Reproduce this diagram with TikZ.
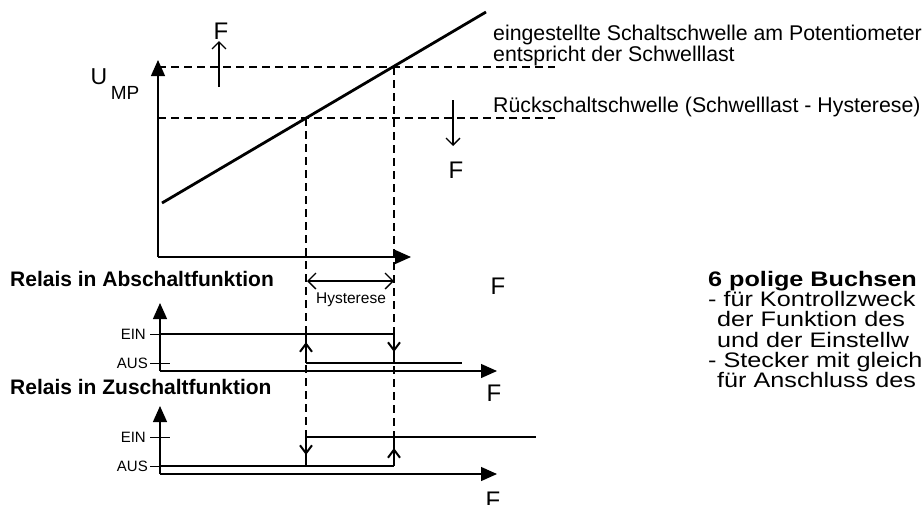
\documentclass[tikz,border=0pt]{standalone}
\usepackage{fontspec}
\setmainfont{Liberation Sans}
\newfontfamily\widefont[FakeStretch=1.2]{Liberation Sans}
\usetikzlibrary{arrows.meta, decorations.markings}

\begin{document}
\begin{tikzpicture}[
    x=1pt, y=-1pt,
    axis/.style={line width=1.3pt, -{Triangle[length=16pt,width=14pt]}},
    sig/.style={line width=2.8pt},
    thr/.style={line width=1.1pt, dash pattern=on 8pt off 5pt},
    tick/.style={line width=1pt},
    force/.style={line width=1.2pt, -{Straight Barb[length=7pt,width=14pt,line width=1.3pt]}},
    hyst/.style={line width=1.2pt, {Straight Barb[length=8pt,width=16pt,line width=1.3pt]}-{Straight Barb[length=8pt,width=16pt,line width=1.3pt]}},
    flip/.style={postaction={decorate}, decoration={markings, mark=at position #1 with {\arrow[line width=2pt]{Straight Barb[length=8pt,width=12pt]}}}},
    lvl/.style={inner sep=0pt, anchor=east, font=\fontsize{15}{15}\selectfont},
    bigF/.style={inner sep=0pt, font=\fontsize{24}{24}\selectfont},
    note/.style={inner sep=0pt, anchor=base west, font=\fontsize{21.3}{21}\selectfont},
    head/.style={inner sep=0pt, anchor=base west, font=\bfseries\fontsize{21}{21}\selectfont},
    side/.style={inner sep=0pt, anchor=north west, align=left, font=\widefont\fontsize{21}{20.2}\selectfont}
]
\useasboundingbox (0,0) rectangle (923,504);
\clip (0,0) rectangle (923,504);

% Kennlinie
\coordinate (o)    at (158,257);
\coordinate (ytop) at (158,60);
\coordinate (xend) at (411,257);
\coordinate (k0)   at (162,203);
\coordinate (k1)   at (486,12);
\coordinate (son)  at (394,67);
\coordinate (soff) at (306,118);
\coordinate (son-e)  at (555,67);
\coordinate (soff-e) at (555,118);
\coordinate (son-l)  at (158,67);
\coordinate (soff-l) at (158,118);
\coordinate (son-d)  at (394,437);
\coordinate (soff-d) at (306,437);

\draw [thr] (son-l) -- (son-e);
\draw [thr] (soff-l) -- (soff-e);
\draw [thr] (son) -- (son-d);
\draw [thr] (soff) -- (soff-d);
\draw [axis] (o) -- (ytop);
\draw [axis] (o) -- (xend);
\draw [line width=2.8pt] (k0) -- (k1);

\node (u) [inner sep=0pt, font=\fontsize{23}{23}\selectfont] at (99,77) {U};
\node (mp) [inner sep=0pt, font=\fontsize{19}{19}\selectfont] at (125,93) {MP};

\coordinate (fu0) at (219,87);
\coordinate (fu1) at (219,41);
\coordinate (fd0) at (453,100);
\coordinate (fd1) at (453,146);
\draw [force] (fu0) -- (fu1);
\draw [force] (fd0) -- (fd1);
\node (fup) [bigF] at (221,31) {F};
\node (fdown) [bigF] at (456,170) {F};

\node (ein) [note] at (493,40) {eingestellte Schaltschwelle am Potentiometer};
\node (ent) [note] at (493,61) {entspricht der Schwelllast};
\node (rueck) [note] at (493,112) {Rückschaltschwelle (Schwelllast - Hysterese)};

% Hysterese
\coordinate (h0) at (307,281);
\coordinate (h1) at (394,281);
\draw [hyst] (h0) -- (h1);
\node (hy) [inner sep=0pt, font=\fontsize{15.5}{15}\selectfont] at (351,300) {Hysterese};

% Relais in Abschaltfunktion
\node (ab) [head] at (10,286) {Relais in Abschaltfunktion};
\node (fab) [bigF] at (498,286) {F};
\coordinate (a-o) at (160,371);
\coordinate (a-y) at (160,303);
\coordinate (a-x) at (497,371);
\draw [axis] (a-o) -- (a-y);
\draw [axis] (a-o) -- (a-x);
\draw [tick] (150,334) -- (170,334);
\draw [tick] (150,363) -- (170,363);
\node (a-ein) [lvl] at (146,334) {EIN};
\node (a-aus) [lvl] at (148,363) {AUS};
\coordinate (a1) at (160,334);
\coordinate (a2) at (394,334);
\coordinate (a3) at (394,363);
\coordinate (a4) at (306,363);
\coordinate (a5) at (306,334);
\coordinate (a6) at (462,363);
\draw [sig] (a1) -- (a2);
\draw [sig, flip=0.62] (a2) -- (a3);
\draw [sig, flip=0.72] (a4) -- (a5);
\draw [sig] (a4) -- (a6);
\node (fa) [bigF] at (494,393) {F};

% Relais in Zuschaltfunktion
\node (zu) [head] at (10,394) {Relais in Zuschaltfunktion};
\coordinate (z-o) at (160,474);
\coordinate (z-y) at (160,406);
\coordinate (z-x) at (497,474);
\draw [axis] (z-o) -- (z-y);
\draw [axis] (z-o) -- (z-x);
\draw [tick] (150,437) -- (170,437);
\draw [tick] (150,466) -- (170,466);
\node (z-ein) [lvl] at (146,437) {EIN};
\node (z-aus) [lvl] at (148,466) {AUS};
\coordinate (z1) at (160,466);
\coordinate (z2) at (394,466);
\coordinate (z3) at (394,437);
\coordinate (z4) at (306,437);
\coordinate (z5) at (306,466);
\coordinate (z6) at (536,437);
\draw [sig] (z1) -- (z2);
\draw [sig, flip=0.62] (z2) -- (z3);
\draw [sig, flip=0.62] (z4) -- (z5);
\draw [sig] (z4) -- (z6);
\node (fz) [bigF] at (493,500) {F};

% Buchsenleiste
\node (buchsen) [side] at (708,271) {\textbf{6 polige Buchsen}\\
  - für Kontrollzweck\\
  \hspace*{9pt}der Funktion des\\
  \hspace*{9pt}und der Einstellw\\
  - Stecker mit gleich\\
  \hspace*{9pt}für Anschluss des};

\end{tikzpicture}
\end{document}
